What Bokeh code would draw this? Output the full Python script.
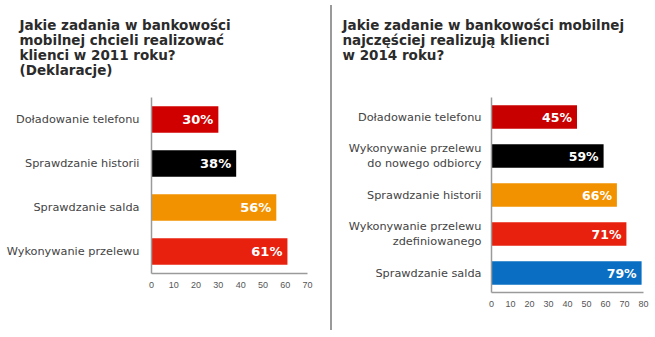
from bokeh.plotting import figure
from bokeh.models import ColumnDataSource, FactorRange, FixedTicker, Div
from bokeh.layouts import row
from bokeh.embed import file_html
from bokeh.resources import INLINE
from bokeh.core.properties import value

# ---- data ----
title_left = ["Jakie zadania w bankowości", "mobilnej chcieli realizować",
              "klienci w 2011 roku?", "(Deklaracje)"]
cats_left = ["Doładowanie telefonu", "Sprawdzanie historii", "Sprawdzanie salda", "Wykonywanie przelewu"]
vals_left = [30, 38, 56, 61]
colors_left = ["#D00000", "#000000", "#F39200", "#E8200E"]
ticks_left = [0, 10, 20, 30, 40, 50, 60, 70]

title_right = ["Jakie zadanie w bankowości mobilnej", "najczęściej realizują klienci",
               "w 2014 roku?"]
cats_right = ["Doładowanie telefonu", "Wykonywanie przelewu\ndo nowego odbiorcy", "Sprawdzanie historii",
              "Wykonywanie przelewu\nzdefiniowanego", "Sprawdzanie salda"]
vals_right = [45, 59, 66, 71, 79]
colors_right = ["#C80000", "#000000", "#F39200", "#E8200E", "#0A6FC2"]
ticks_right = [0, 10, 20, 30, 40, 50, 60, 70, 80]

AX = "#9a9a9a"
TITLE_LINES = 5  # both titles share the same top; pad with blank lines


def make(cats, vals, colors, ticks, title, width, height, bl, br, bt, bb, lab_size,
         title_x_px, ystand):
    src = ColumnDataSource(dict(cat=cats, val=vals, color=colors,
                                lab=[f"{v}%" for v in vals]))
    p = figure(width=width, height=height, y_range=FactorRange(factors=list(reversed(cats))),
               x_range=(0, ticks[-1]), output_backend="svg", toolbar_location=None,
               min_border_left=bl, min_border_right=br, min_border_top=bt, min_border_bottom=bb)
    p.hbar(y="cat", right="val", height=0.6, fill_color="color", line_color=None, source=src)
    p.text(x="val", y="cat", text="lab", source=src, x_offset=-5, text_align="right",
           text_baseline="middle", text_color="white", text_font=value("DejaVu Sans"),
           text_font_style="bold", text_font_size=lab_size)
    p.outline_line_color = None
    p.grid.visible = False
    lines = list(title) + ["\u00a0"] * (TITLE_LINES - len(title))
    p.title.text = "\n".join(lines)
    p.title.align = "left"
    p.title.offset = title_x_px - bl
    p.title.standoff = 8
    p.title.text_font = "DejaVu Sans"
    p.title.text_font_style = "bold"
    p.title.text_font_size = "13.5px"
    p.title.text_color = "#2b2b2b"
    p.title.text_line_height = 0.94
    p.xaxis.ticker = FixedTicker(ticks=ticks)
    p.xaxis.major_tick_line_color = None
    p.xaxis.minor_tick_line_color = None
    p.xaxis.axis_line_color = AX
    p.xaxis.axis_line_width = 1.5
    p.xaxis.major_label_text_font = "Liberation Sans"
    p.xaxis.major_label_text_font_size = "9px"
    p.xaxis.major_label_text_color = "#555555"
    p.xaxis.major_label_standoff = 2
    p.yaxis.major_tick_line_color = None
    p.yaxis.minor_tick_line_color = None
    p.yaxis.axis_line_color = AX
    p.yaxis.axis_line_width = 1.5
    p.yaxis.major_label_text_font = "DejaVu Sans"
    p.yaxis.major_label_text_font_size = "11.3px"
    p.yaxis.major_label_text_color = "#444444"
    p.yaxis.major_label_standoff = ystand
    return p


p1 = make(cats_left, vals_left, colors_left, ticks_left, title_left,
          330, 318, 151, 23, 97, 45, "13px", 19, 6)
sep = Div(width=2, height=325, margin=(5, 0, 0, 0), styles={"background-color": AX})
p2 = make(cats_right, vals_right, colors_right, ticks_right, title_right,
          323, 337, 159, 12, 97, 45, "12.5px", 342 - 332, 4)

layout = row(p1, sep, p2, spacing=0)
open("out.html", "w").write(file_html(layout, INLINE))
